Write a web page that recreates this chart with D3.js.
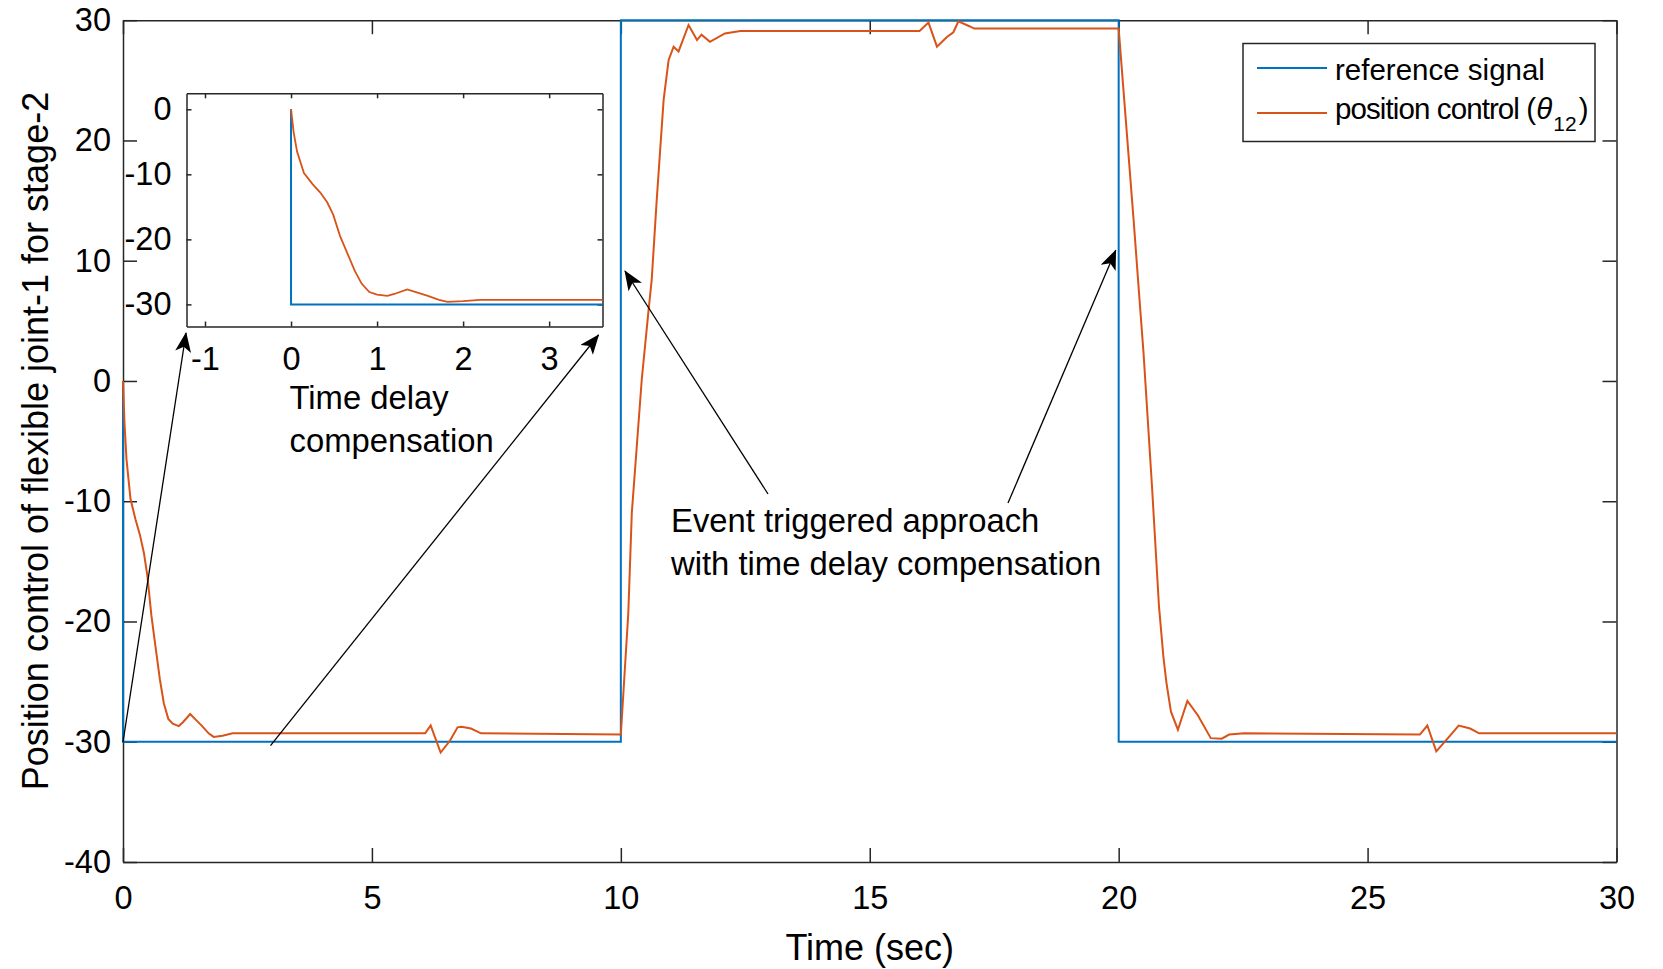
<!DOCTYPE html>
<html>
<head>
<meta charset="utf-8">
<script src="https://d3js.org/d3.v7.min.js"></script>
<style>
  body { margin: 0; background: #fff; }
  text { font-family: "Liberation Sans", Arial, sans-serif; fill: #000; }
</style>
</head>
<body>
<script>
    // reference step signal
    var refTime  = [0, 0, 10, 10, 20, 20, 30];
    var refValue = [0, -30, -30, 30, 30, -30, -30];

    // position control response theta_12
    var respTime  = [0, 0.03, 0.07, 0.15, 0.25, 0.34, 0.42, 0.49, 0.57, 0.65, 0.74, 0.82, 0.91, 1.0, 1.12, 1.2, 1.35, 1.47, 1.59, 1.72, 1.82, 2.0, 2.2,
                     6.07, 6.18, 6.38, 6.57, 6.72, 6.8, 6.99, 7.19,
                     10.0, 10.15, 10.22, 10.32, 10.42, 10.55, 10.62, 10.72, 10.86, 10.96, 11.06, 11.16, 11.36, 11.53, 11.62, 11.79, 12.09, 12.4,
                     16.0, 16.18, 16.35, 16.55, 16.68, 16.78, 17.0, 17.1,
                     20.0, 20.3, 20.42, 20.5, 20.67, 20.81, 20.9, 20.96, 21.05, 21.19, 21.38, 21.59, 21.85, 22.07, 22.22, 22.52,
                     26.05, 26.2, 26.38, 26.57, 26.83, 27.06, 27.24, 30];
    var respValue = [0, -3.5, -6.5, -9.8, -11.5, -12.8, -14.3, -16.2, -19.5, -22, -24.8, -26.8, -28.1, -28.5, -28.7, -28.4, -27.7, -28.2, -28.7, -29.3, -29.6, -29.5, -29.3,
                     -29.3, -28.65, -30.9, -29.9, -28.8, -28.75, -28.9, -29.3,
                     -29.4, -19.3, -11.0, -5.45, 0.1, 5.6, 8.4, 15, 23.4, 26.7, 27.8, 27.4, 29.6, 28.35, 28.8, 28.2, 28.9, 29.1,
                     29.1, 29.8, 27.8, 28.6, 29.0, 29.9, 29.5, 29.3,
                     29.3, 13.4, 6.7, 2.3, -8.8, -18.75, -23, -25.1, -27.5, -29.0, -26.6, -27.8, -29.7, -29.75, -29.4, -29.3,
                     -29.4, -28.65, -30.8, -29.9, -28.65, -28.9, -29.3, -29.3];

    var xTicks = [0, 5, 10, 15, 20, 25, 30];
    var yTicks = [-40, -30, -20, -10, 0, 10, 20, 30];
    var insetXTicks = [-1, 0, 1, 2, 3];
    var insetYTicks = [-30, -20, -10, 0];
    var insetXLim = [-1.215, 3.62];
    var insetYLim = [-33.4, 2.46];

    var width = 1663, height = 969;
    var blue = '#0072BD', orange = '#D95319', axisCol = '#262626';
    var fmt = function(d){ return String(d); };

    var svg = d3.select('body').append('svg').attr('width', width).attr('height', height);

    svg.append('defs').append('marker').attr('id', 'head')
        .attr('viewBox', '0 0 20 16').attr('refX', 19).attr('refY', 8)
        .attr('markerWidth', 20).attr('markerHeight', 16).attr('markerUnits', 'userSpaceOnUse')
        .attr('orient', 'auto')
        .append('path').attr('d', 'M0,0 L20,8 L0,16 L5,8 Z').attr('fill', '#000');

    var refData = refTime.map(function(t, i){ return [t, refValue[i]]; });
    var respData = respTime.map(function(t, i){ return [t, respValue[i]]; });

    // ---- main axes
    var x = d3.scaleLinear().domain([0, 30]).range([123, 1616.5]);
    var y = d3.scaleLinear().domain([-40, 30]).range([862, 20.2]);

    function styleAxis(g){
        g.selectAll('path,line').attr('stroke', axisCol).attr('stroke-width', 1.5);
        g.selectAll('text').style('font-family', '"Liberation Sans", Arial, sans-serif').attr('fill', '#000');
    }

    svg.append('g').attr('transform', 'translate(0,862)')
        .call(d3.axisBottom(x).tickValues(xTicks).tickFormat(fmt).tickSizeInner(-14).tickSizeOuter(0).tickPadding(24))
        .call(styleAxis).selectAll('text').attr('font-size', 32.5);
    svg.append('g').attr('transform', 'translate(0,20.2)')
        .call(d3.axisTop(x).tickValues(xTicks).tickSizeInner(-14).tickSizeOuter(0).tickFormat(''))
        .call(styleAxis);
    svg.append('g').attr('transform', 'translate(123,0)')
        .call(d3.axisLeft(y).tickValues(yTicks).tickFormat(fmt).tickSizeInner(-14).tickSizeOuter(0).tickPadding(12))
        .call(styleAxis).selectAll('text').attr('font-size', 32.5);
    svg.append('g').attr('transform', 'translate(1616.5,0)')
        .call(d3.axisRight(y).tickValues(yTicks).tickSizeInner(-14).tickSizeOuter(0).tickFormat(''))
        .call(styleAxis);

    var line = d3.line().x(function(d){ return x(d[0]); }).y(function(d){ return y(d[1]); });
    svg.append('path').datum(refData).attr('d', line).attr('fill', 'none').attr('stroke', blue).attr('stroke-width', 2);
    svg.append('path').datum(respData).attr('d', line).attr('fill', 'none').attr('stroke', orange).attr('stroke-width', 2);

    svg.append('text').attr('x', (123 + 1616.5) / 2).attr('y', 947).attr('dy', '0.35em')
        .attr('text-anchor', 'middle').attr('font-size', 36).text('Time (sec)');
    svg.append('text').attr('transform', 'translate(35,441) rotate(-90)').attr('dy', '0.35em')
        .attr('text-anchor', 'middle').attr('font-size', 36).text('Position control of flexible joint-1 for stage-2');

    // ---- legend
    var leg = svg.append('g');
    leg.append('rect').attr('x', 1243).attr('y', 43.5).attr('width', 352).attr('height', 98)
        .attr('fill', '#fff').attr('stroke', axisCol).attr('stroke-width', 1.5);
    leg.append('line').attr('x1', 1257).attr('x2', 1327).attr('y1', 68).attr('y2', 68).attr('stroke', blue).attr('stroke-width', 2);
    leg.append('line').attr('x1', 1257).attr('x2', 1327).attr('y1', 113).attr('y2', 113).attr('stroke', orange).attr('stroke-width', 2);
    leg.append('text').attr('x', 1335).attr('y', 70).attr('dy', '0.35em').attr('font-size', 29.5).text('reference signal');
    var lt = leg.append('text').attr('x', 1335).attr('y', 109).attr('dy', '0.35em').attr('font-size', 29.5);
    lt.append('tspan').attr('letter-spacing', '-0.9px').text('position control (');
    lt.append('tspan').attr('font-style', 'italic').attr('dx', 1).text('\u03B8');
    lt.append('tspan').attr('font-size', 21).attr('dy', 12).attr('dx', 1).text('12');
    lt.append('tspan').attr('dy', -12).attr('dx', 2).text(')');

    // ---- inset
    var xi = d3.scaleLinear().domain(insetXLim).range([186.5, 602.5]);
    var yi = d3.scaleLinear().domain(insetYLim).range([326.5, 93.3]);
    var inset = svg.append('g');
    inset.append('rect').attr('x', 186.5).attr('y', 93.3).attr('width', 416).attr('height', 233.2).attr('fill', '#fff');
    inset.append('g').attr('transform', 'translate(0,326.5)')
        .call(d3.axisBottom(xi).tickValues(insetXTicks).tickFormat(fmt).tickSizeInner(-5).tickSizeOuter(0).tickPadding(20))
        .call(styleAxis).selectAll('text').attr('font-size', 32.5);
    inset.append('g').attr('transform', 'translate(0,93.3)')
        .call(d3.axisTop(xi).tickValues(insetXTicks).tickSizeInner(-5).tickSizeOuter(0).tickFormat(''))
        .call(styleAxis);
    inset.append('g').attr('transform', 'translate(186.5,0)')
        .call(d3.axisLeft(yi).tickValues(insetYTicks).tickFormat(fmt).tickSizeInner(-5).tickSizeOuter(0).tickPadding(15))
        .call(styleAxis).selectAll('text').attr('font-size', 32.5);
    inset.append('g').attr('transform', 'translate(602.5,0)')
        .call(d3.axisRight(yi).tickValues(insetYTicks).tickSizeInner(-5).tickSizeOuter(0).tickFormat(''))
        .call(styleAxis);
    var iline = d3.line().x(function(d){ return xi(d[0]); }).y(function(d){ return yi(d[1]); });
    var clipIn = function(d){ return d[0] <= insetXLim[1]; };
    inset.append('path').datum(refData.filter(clipIn).concat([[insetXLim[1], -30]])).attr('d', iline)
        .attr('fill', 'none').attr('stroke', blue).attr('stroke-width', 2);
    var respIn = respData.filter(clipIn).concat([[insetXLim[1], -29.3]]);
    inset.append('path').datum(respIn).attr('d', iline)
        .attr('fill', 'none').attr('stroke', orange).attr('stroke-width', 1.8);

    // ---- annotations
    svg.append('text').attr('x', 289.5).attr('y', 398).attr('dy', '0.35em').attr('font-size', 32.8).text('Time delay');
    svg.append('text').attr('x', 289.5).attr('y', 441).attr('dy', '0.35em').attr('font-size', 32.8).text('compensation');
    svg.append('text').attr('x', 671).attr('y', 521).attr('dy', '0.35em').attr('font-size', 32.8).text('Event triggered approach');
    svg.append('text').attr('x', 671).attr('y', 564).attr('dy', '0.35em').attr('font-size', 32.8).text('with time delay compensation');

    var arrows = [[123, 742, 186, 333], [270.5, 745.6, 598.5, 335], [768, 494, 625, 271], [1008, 503, 1115.7, 250.3]];
    svg.selectAll('line.arrow').data(arrows).enter().append('line').attr('class', 'arrow')
        .attr('x1', function(d){ return d[0]; }).attr('y1', function(d){ return d[1]; })
        .attr('x2', function(d){ return d[2]; }).attr('y2', function(d){ return d[3]; })
        .attr('stroke', '#000').attr('stroke-width', 1.3).attr('marker-end', 'url(#head)');
</script>
</body>
</html>
